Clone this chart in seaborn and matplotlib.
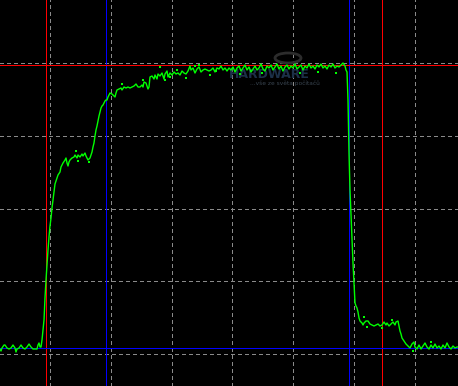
import numpy as np
import pandas as pd
import matplotlib
matplotlib.use("Agg")
import matplotlib.pyplot as plt
from matplotlib.patches import Ellipse
import seaborn as sns

# ---- data (screen units: x = time position, y = level, top = 0) ----
trace_x = [0, 1, 2, 4, 5, 7, 9, 11, 13, 15, 16, 17, 19, 21, 23, 25, 27, 29, 31, 33, 35, 37, 38, 39, 40, 41, 42, 43, 44,
           45, 46, 47, 48, 49, 50, 51, 52, 53, 54, 55, 57, 58, 60, 61, 63, 65, 66, 67, 68, 69, 70, 72, 74, 75, 77, 78,
           80, 82, 83, 85, 86, 87, 88, 90, 91, 92, 93, 94, 95, 96, 97, 98, 99, 100, 101, 102, 103, 104, 105, 106, 107,
           108, 109, 110, 112, 113, 115, 116, 117, 119, 121, 122, 124, 126, 128, 130, 132, 134, 136, 138, 140, 142,
           143, 144, 146, 148, 149, 150, 152, 154, 155, 157, 158, 160, 162, 164, 165, 167, 168, 170, 172, 174, 176,
           178, 180, 182, 184, 186, 188, 190, 191, 193, 195, 197, 199, 201, 203, 205, 207, 209, 211, 213, 215, 217,
           219, 221, 223, 225, 227, 229, 231, 233, 235, 237, 239, 241, 243, 245, 247, 249, 251, 253, 255, 257, 259,
           261, 263, 265, 267, 269, 271, 273, 275, 277, 279, 281, 283, 285, 287, 289, 291, 293, 295, 297, 299, 301,
           303, 305, 307, 309, 311, 313, 315, 317, 319, 321, 323, 325, 327, 329, 331, 333, 335, 337, 339, 341, 343,
           345, 346, 347, 348, 349, 350, 351, 352, 353, 354, 355, 356, 357, 358, 359, 360, 362, 363, 364, 366, 368,
           370, 372, 374, 376, 378, 380, 382, 384, 386, 387, 389, 391, 393, 395, 396, 398, 399, 400, 401, 402, 404,
           406, 408, 410, 412, 414, 415, 417, 419, 421, 423, 425, 427, 429, 431, 433, 435, 437, 439, 441, 443, 445,
           447, 449, 451, 453, 455, 457, 458]
trace_y = [349, 351, 348, 345, 345, 348, 349, 348, 345, 348, 352, 349, 348, 345, 348, 349, 347, 344, 347, 349, 349, 349,
           345, 343, 347, 347, 340, 330, 320,
           298, 280, 265, 250, 237, 226, 218, 208, 200, 192, 184, 178, 175, 172, 167, 163, 160, 158, 163, 166, 162,
           160, 158, 157, 155, 158, 155, 157, 154, 156, 153, 156, 158, 160, 158, 155, 152, 147, 143, 136, 130, 126,
           121, 116, 112, 108, 106, 105, 103, 101, 100, 100, 97, 95, 93, 94, 95, 97, 93, 90, 89, 88, 90, 87, 88, 87,
           88, 87, 86, 84, 87, 87, 85, 87, 82, 83, 89, 87, 77, 76, 79, 75, 79, 74, 76, 73, 79, 74, 71, 77, 73, 75,
           72, 74, 73, 75, 71, 73, 74, 71, 66, 70, 68, 73, 69, 67, 72, 70, 69, 70, 71, 70, 68, 72, 68, 69, 66, 70,
           68, 71, 68, 70, 67, 72, 68, 66, 71, 68, 65, 70, 67, 72, 69, 66, 70, 68, 64, 69, 71, 66, 68, 65, 70, 67,
           64, 69, 66, 71, 67, 65, 69, 66, 68, 64, 69, 67, 65, 70, 66, 68, 64, 68, 66, 69, 65, 67, 64, 68, 66, 69,
           65, 67, 64, 68, 66, 67, 65, 63, 66, 70, 72, 100, 153, 190, 215, 240, 263, 283, 303, 306, 308, 312, 318,
           321, 323, 325, 323, 321, 321, 324, 325, 326, 325, 324, 326, 325, 322, 325, 323, 326, 324, 322, 325, 322,
           321, 326, 331, 334, 338, 341, 344, 346, 348, 344, 342, 347, 349, 345, 349, 346, 343, 347, 349, 345, 348,
           344, 348, 346, 349, 345, 348, 343, 347, 349, 346, 348, 347, 347]

dots_x = [76, 78, 89, 122, 143, 160, 165, 170, 177, 186, 195, 199, 210, 216, 240, 262, 300, 318, 336, 364, 367, 382, 392,
          413, 431]
dots_y = [151, 161, 162, 84, 80, 67, 80, 77, 70, 78, 66, 65, 75, 71, 74, 73, 73, 72, 73, 317, 327, 328, 320, 351, 342]

grid_x = [49, 110, 171, 231, 292, 353, 414]
grid_y = [62, 135, 208, 280, 353]

cursor_v_red = [45, 381]
cursor_v_blue = [105, 348]
cursor_h_red = [64]
cursor_h_blue = [347]

W, H = 458, 386

sns.set_style("dark")
fig = plt.figure(figsize=(W / 100, H / 100), dpi=100)
ax = fig.add_axes([0, 0, 1, 1])
ax.set_facecolor("black")
fig.patch.set_facecolor("black")
ax.set_xlim(0, W)
ax.set_ylim(H, 0)

px = 0.72
# grid
for gx in grid_x:
    ax.axvline(gx + 0.5, color="#8a8a8a", lw=px, ls=(0, (3, 3)), antialiased=False, zorder=1)
for gy in grid_y:
    ax.axhline(gy + 0.5, color="#8a8a8a", lw=px, ls=(0, (3, 3)), antialiased=False, zorder=1)

# watermark
ax.add_patch(Ellipse((288, 58), 26, 10, fill=False, edgecolor="#2c2c2c", lw=2.0, zorder=2))
ax.text(269, 75, "HARDWARE", color="#1c3048", fontsize=9, fontweight="bold",
        ha="center", va="center", zorder=2)
ax.text(285, 83, "...vše ze světa počítačů", color="#3a4652", fontsize=4.2,
        ha="center", va="center", zorder=2)

# cursors
for cx in cursor_v_red:
    ax.axvline(cx + 0.5, color="#ff0000", lw=px, antialiased=False, zorder=3)
for cx in cursor_v_blue:
    ax.axvline(cx + 0.5, color="#0000ff", lw=px, antialiased=False, zorder=3)
for cy in cursor_h_red:
    ax.axhline(cy + 0.5, color="#ff0000", lw=px, antialiased=False, zorder=3)
for cy in cursor_h_blue:
    ax.axhline(cy + 0.5, color="#0000ff", lw=px, antialiased=False, zorder=3)

df = pd.DataFrame({"t": trace_x, "v": trace_y})
sns.lineplot(data=df, x="t", y="v", ax=ax, color="#00ff00", linewidth=1.0,
             estimator=None, sort=False, zorder=4)
sns.scatterplot(x=dots_x, y=dots_y, ax=ax, color="#00ff00", s=1.5, linewidth=0,
                marker="s", zorder=4)

ax.set_xlim(0, W)
ax.set_ylim(H, 0)
ax.set_xticks([])
ax.set_yticks([])
ax.set_xlabel("")
ax.set_ylabel("")
ax.grid(False)
for s in ax.spines.values():
    s.set_visible(False)

fig.savefig("out.png", dpi=100, facecolor="black")
